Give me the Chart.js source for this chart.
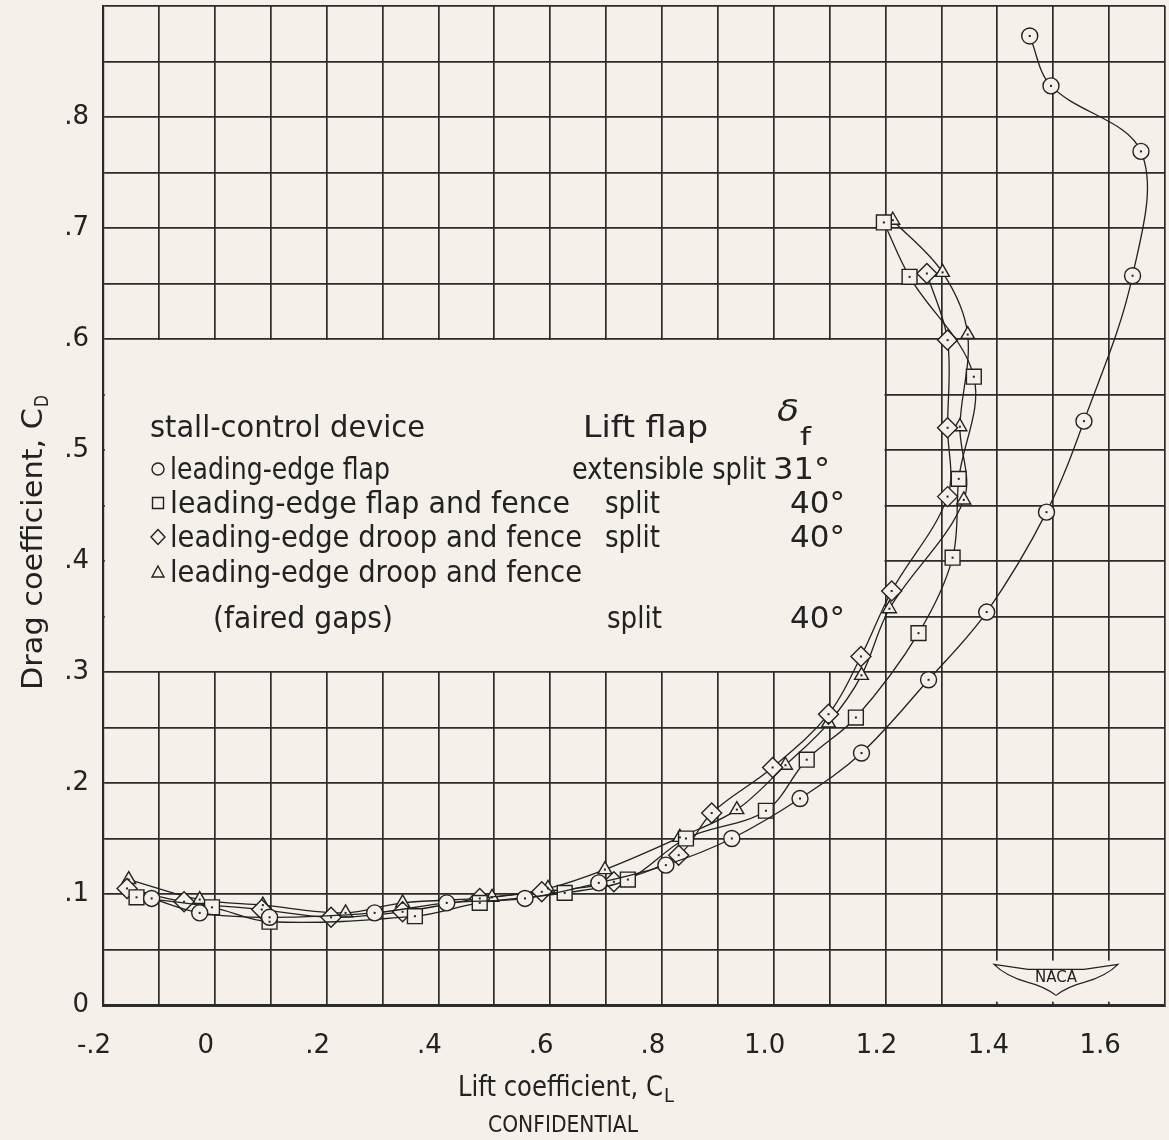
<!DOCTYPE html>
<html lang="en">
<head>
<meta charset="UTF-8">
<title>Drag coefficient vs lift coefficient</title>
<script src="https://cdn.jsdelivr.net/npm/chart.js"></script>
<style>
  html, body { margin: 0; padding: 0; background: #f5f0ea; }
  canvas { display: block; }
</style>
</head>
<body>
<canvas id="chart" width="1169" height="1140"></canvas>
<script>
// circles: leading-edge flap, extensible split flap 31 deg
const flapCL = [-0.113, -0.027, 0.098, 0.286, 0.415, 0.555, 0.687, 0.807, 0.925, 1.047, 1.157, 1.277, 1.381, 1.488, 1.555, 1.642, 1.657, 1.496, 1.458];
const flapCD = [0.096, 0.083, 0.079, 0.083, 0.092, 0.096, 0.110, 0.126, 0.150, 0.186, 0.227, 0.293, 0.354, 0.444, 0.526, 0.657, 0.769, 0.828, 0.873];

// squares: leading-edge flap and fence, split flap 40 deg
const flapFenceCL = [-0.140, -0.005, 0.098, 0.358, 0.474, 0.626, 0.739, 0.843, 0.986, 1.059, 1.147, 1.259, 1.320, 1.331, 1.358, 1.243, 1.197];
const flapFenceCD = [0.097, 0.088, 0.075, 0.080, 0.092, 0.101, 0.113, 0.150, 0.175, 0.221, 0.259, 0.335, 0.403, 0.474, 0.566, 0.656, 0.705];

// diamonds: leading-edge droop and fence, split flap 40 deg
const droopCL = [-0.157, -0.055, 0.084, 0.208, 0.336, 0.474, 0.585, 0.714, 0.830, 0.889, 0.998, 1.098, 1.156, 1.211, 1.311, 1.311, 1.311, 1.274];
const droopCD = [0.105, 0.093, 0.086, 0.079, 0.084, 0.096, 0.102, 0.111, 0.135, 0.173, 0.214, 0.262, 0.314, 0.373, 0.458, 0.520, 0.599, 0.659];

// triangles: leading-edge droop and fence (faired gaps), split flap 40 deg
const fairedCL = [-0.154, -0.027, 0.086, 0.234, 0.336, 0.496, 0.596, 0.698, 0.832, 0.934, 1.021, 1.098, 1.157, 1.207, 1.340, 1.333, 1.347, 1.302, 1.213];
const fairedCD = [0.113, 0.095, 0.090, 0.083, 0.092, 0.097, 0.105, 0.122, 0.151, 0.176, 0.216, 0.254, 0.297, 0.357, 0.455, 0.521, 0.604, 0.660, 0.707];

const PAPER = '#f5f0ea';
const INK = '#222222';
const GRID = '#2b2b2b';
const FONT = '"DejaVu Sans", sans-serif';

function pts(xs, ys) {
    return xs.map((x, i) => ({ x: x, y: ys[i] }));
}

function series(label, xs, ys, style, radius) {
    return {
        label: label,
        data: pts(xs, ys),
        showLine: true,
        tension: 0.35,
        borderColor: INK,
        borderWidth: 1.3,
        pointStyle: style,
        pointRadius: radius,
        pointBorderWidth: 1.4,
        pointBorderColor: INK,
        pointBackgroundColor: PAPER
    };
}

// text squeezed/stretched to a given width, to mimic the hand lettering
function fitText(ctx, str, x, y, w) {
    const m = ctx.measureText(str).width;
    ctx.save();
    ctx.translate(x, y);
    ctx.scale(w / m, 1);
    ctx.fillText(str, 0, 0);
    ctx.restore();
}

const paperPlugin = {
    id: 'paper',
    beforeDraw(chart) {
        const ctx = chart.ctx;
        ctx.save();
        ctx.fillStyle = PAPER;
        ctx.fillRect(0, 0, chart.width, chart.height);
        ctx.restore();
    },
    beforeDatasetsDraw(chart) {
        // blank panel behind the legend and behind the NACA logo
        const ctx = chart.ctx, x = chart.scales.x, y = chart.scales.y;
        ctx.save();
        ctx.fillStyle = PAPER;
        const l = x.getPixelForValue(-0.2) + 2, r = x.getPixelForValue(1.2) - 1;
        const t = y.getPixelForValue(0.6) + 1, b = y.getPixelForValue(0.3) - 1;
        ctx.fillRect(l, t, r - l, b - t);
        const lx = x.getPixelForValue(1.39), rx = x.getPixelForValue(1.62);
        const ty = y.getPixelForValue(0.04), by = y.getPixelForValue(0.003);
        ctx.fillRect(lx, ty, rx - lx, by - ty);
        ctx.restore();
    },
    afterDatasetsDraw(chart) {
        // small centre dot in each symbol
        const ctx = chart.ctx;
        ctx.save();
        ctx.fillStyle = INK;
        chart.data.datasets.forEach((ds, i) => {
            chart.getDatasetMeta(i).data.forEach(el => {
                ctx.fillRect(el.x - 1, el.y - 1, 2, 2);
            });
        });
        ctx.restore();
    },
    afterDraw(chart) {
        const ctx = chart.ctx;
        ctx.save();
        ctx.fillStyle = INK;
        ctx.strokeStyle = INK;
        ctx.textBaseline = 'alphabetic';
        ctx.textAlign = 'left';

        // legend
        ctx.font = '30px ' + FONT;
        fitText(ctx, 'stall-control device', 150, 437, 275);
        fitText(ctx, 'Lift flap', 583, 437, 125);
        ctx.font = 'italic 30px ' + FONT;
        fitText(ctx, 'δ', 777, 421, 22);
        ctx.font = '24px ' + FONT;
        fitText(ctx, 'f', 800, 445, 11);

        ctx.font = '30px ' + FONT;
        const rows = [
            { sym: 'circle', y: 479, name: 'leading-edge flap', nw: 220, flap: 'extensible split', fx: 572, fw: 194, deg: '31°', dx: 773, dw: 57 },
            { sym: 'square', y: 513, name: 'leading-edge flap and fence', nw: 400, flap: 'split', fx: 605, fw: 55, deg: '40°', dx: 790, dw: 55 },
            { sym: 'diamond', y: 547, name: 'leading-edge droop and fence', nw: 412, flap: 'split', fx: 605, fw: 55, deg: '40°', dx: 790, dw: 55 },
            { sym: 'triangle', y: 582, name: 'leading-edge droop and fence', nw: 412 }
        ];
        ctx.lineWidth = 1.4;
        rows.forEach(r => {
            const cx = 158, cy = r.y - 10;
            ctx.beginPath();
            if (r.sym === 'circle') {
                ctx.arc(cx, cy, 6, 0, Math.PI * 2);
            } else if (r.sym === 'square') {
                ctx.rect(cx - 5.5, cy - 5.5, 11, 11);
            } else if (r.sym === 'diamond') {
                ctx.moveTo(cx, cy - 7.5); ctx.lineTo(cx + 7, cy); ctx.lineTo(cx, cy + 7.5); ctx.lineTo(cx - 7, cy); ctx.closePath();
            } else {
                ctx.moveTo(cx, cy - 6); ctx.lineTo(cx + 6, cy + 5); ctx.lineTo(cx - 6, cy + 5); ctx.closePath();
            }
            ctx.stroke();
            fitText(ctx, r.name, 170, r.y, r.nw);
            if (r.flap) fitText(ctx, r.flap, r.fx, r.y, r.fw);
            if (r.deg) fitText(ctx, r.deg, r.dx, r.y, r.dw);
        });
        fitText(ctx, '(faired gaps)', 213, 628, 180);
        fitText(ctx, 'split', 607, 628, 55);
        fitText(ctx, '40°', 790, 628, 55);

        // x axis title
        ctx.font = '29px ' + FONT;
        fitText(ctx, 'Lift coefficient, C', 458, 1096, 205);
        ctx.font = '20px ' + FONT;
        fitText(ctx, 'L', 664, 1102, 10);
        ctx.font = '23px ' + FONT;
        fitText(ctx, 'CONFIDENTIAL', 488, 1132, 150);

        // y axis title
        ctx.save();
        ctx.translate(42, 690);
        ctx.rotate(-Math.PI / 2);
        ctx.font = '29px ' + FONT;
        fitText(ctx, 'Drag coefficient, C', 0, 0, 282);
        ctx.font = '20px ' + FONT;
        fitText(ctx, 'D', 283, 6, 12);
        ctx.restore();

        // NACA emblem
        const x = chart.scales.x, y = chart.scales.y;
        const ex = x.getPixelForValue(1.505), ey = y.getPixelForValue(0.024);
        ctx.lineWidth = 1.2;
        ctx.beginPath();
        ctx.moveTo(ex - 28, ey - 9);
        ctx.lineTo(ex - 62, ey - 14);
        ctx.quadraticCurveTo(ex - 50, ey - 2, ex - 28, ey + 4);
        ctx.moveTo(ex + 28, ey - 9);
        ctx.lineTo(ex + 62, ey - 14);
        ctx.quadraticCurveTo(ex + 50, ey - 2, ex + 28, ey + 4);
        ctx.moveTo(ex - 28, ey - 9);
        ctx.lineTo(ex + 28, ey - 9);
        ctx.moveTo(ex - 28, ey + 4);
        ctx.quadraticCurveTo(ex - 12, ey + 8, ex, ey + 17);
        ctx.quadraticCurveTo(ex + 12, ey + 8, ex + 28, ey + 4);
        ctx.stroke();
        ctx.font = '15px ' + FONT;
        ctx.textAlign = 'center';
        ctx.fillText('NACA', ex, ey + 4);

        ctx.restore();
    }
};

function xLabel(v) {
    const r = Math.round(v * 10);
    if (r % 2 !== 0 || r === 18) return '';
    if (r === 0) return '0';
    if (r === -2) return '-.2';
    if (r < 10) return '.' + r;
    return (r / 10).toFixed(1);
}

function yLabel(v) {
    const r = Math.round(v * 100);
    if (r % 10 !== 0 || r === 90) return '';
    if (r === 0) return '0';
    return '.' + (r / 10);
}

new Chart(document.getElementById('chart'), {
    type: 'scatter',
    data: {
        datasets: [
            series('leading-edge flap', flapCL, flapCD, 'circle', 8),
            series('leading-edge flap and fence', flapFenceCL, flapFenceCD, 'rect', 10.5),
            series('leading-edge droop and fence', droopCL, droopCD, 'rectRot', 10),
            series('leading-edge droop and fence (faired gaps)', fairedCL, fairedCD, 'triangle', 8)
        ]
    },
    options: {
        responsive: false,
        animation: false,
        layout: { autoPadding: false, padding: { top: 6, right: 4, left: 0, bottom: 0 } },
        plugins: {
            legend: { display: false },
            tooltip: { enabled: false }
        },
        scales: {
            x: {
                type: 'linear',
                min: -0.2,
                max: 1.7,
                afterFit(s) { s.height = 135; s.paddingLeft = 0; s.paddingRight = 0; },
                grid: { color: GRID, lineWidth: 1.7, drawTicks: false },
                border: { color: GRID, width: 3 },
                ticks: {
                    stepSize: 0.1,
                    autoSkip: false,
                    maxRotation: 0,
                    padding: 26,
                    labelOffset: -9,
                    color: INK,
                    font: { family: FONT, size: 26 },
                    callback: xLabel
                }
            },
            y: {
                type: 'linear',
                min: 0,
                max: 0.9,
                afterFit(s) { s.width = 103; s.paddingTop = 0; s.paddingBottom = 0; },
                grid: { color: GRID, lineWidth: 1.7, drawTicks: false },
                border: { color: GRID, width: 2.2 },
                ticks: {
                    stepSize: 0.05,
                    autoSkip: false,
                    padding: 14,
                    color: INK,
                    font: { family: FONT, size: 26 },
                    callback: yLabel
                }
            }
        }
    },
    plugins: [paperPlugin]
});
</script>
</body>
</html>
